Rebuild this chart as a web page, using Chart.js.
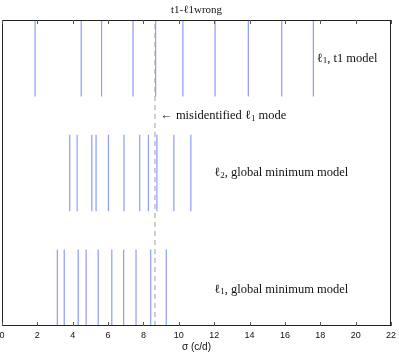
<!DOCTYPE html>
<html>
<head>
<meta charset="utf-8">
<script src="https://cdn.jsdelivr.net/npm/chart.js@4"></script>
<style>
  html, body { margin: 0; padding: 0; background: #fff; }
  #wrap { width: 399px; height: 354px; }
</style>
</head>
<body>
<div id="wrap"><canvas id="modes"></canvas></div>
<script>
// mode frequencies (c/d)
const t1Modes = [1.87, 4.48, 5.63, 7.41, 8.69, 10.23, 12.05, 13.93, 15.82, 17.61];
const l2GlobalModes = [3.83, 4.25, 5.08, 5.32, 6.02, 6.90, 7.79, 8.28, 8.76, 9.72, 10.68];
const l1GlobalModes = [3.13, 3.52, 4.31, 4.76, 5.44, 6.21, 6.88, 7.58, 8.41, 9.29];
const misidentified = 8.65;
const xTicks = [0, 2, 4, 6, 8, 10, 12, 14, 16, 18, 20, 22];

const serif = '"Liberation Serif", "DejaVu Serif", serif';
const sans = '"Liberation Sans", Arial, sans-serif';
const modeColor = '#8c9cff';

// vertical segments between y0 and y1, broken by null points
function sticks(freqs, y0, y1) {
  const pts = [];
  freqs.forEach(f => {
    pts.push({x: f, y: y0}, {x: f, y: y1}, {x: f, y: null});
  });
  return pts;
}

// text pieces: [string, subscript?]
const labels = [
  {x: 17.8, y: 3.5, parts: [['ℓ'], ['1', true], [', t1 model']]},
  {x: 8.95, y: 2.75, parts: [['← misidentified ℓ'], ['1', true], [' mode']]},
  {x: 12.0, y: 2.0, parts: [['ℓ'], ['2', true], [', global minimum model']]},
  {x: 12.0, y: 0.48, parts: [['ℓ'], ['1', true], [', global minimum model']]},
];

function richText(ctx, parts, px, py, size) {
  let cx = px;
  parts.forEach(([s, sub]) => {
    ctx.font = (sub ? Math.round(size * 0.72) : size) + 'px ' + serif;
    ctx.fillText(s, cx, sub ? py + size * 0.22 : py);
    cx += ctx.measureText(s).width;
  });
}

const frame = {
  id: 'frame',
  afterDraw(chart) {
    const {ctx, chartArea: a, scales: {x, y}} = chart;
    ctx.save();
    ctx.strokeStyle = '#222';
    ctx.lineWidth = 1;
    ctx.strokeRect(a.left + 0.5, a.top + 0.5, a.right - a.left - 1, a.bottom - a.top - 1);
    ctx.strokeStyle = '#555';
    xTicks.forEach(t => {
      const px = Math.round(x.getPixelForValue(t)) + 0.5;
      ctx.beginPath();
      ctx.moveTo(px, a.top); ctx.lineTo(px, a.top + 4);
      ctx.moveTo(px, a.bottom); ctx.lineTo(px, a.bottom - 4);
      ctx.stroke();
    });
    ctx.fillStyle = '#111';
    ctx.textBaseline = 'middle';
    labels.forEach(l => {
      richText(ctx, l.parts, x.getPixelForValue(l.x), y.getPixelForValue(l.y), 12.5);
    });
    ctx.textAlign = 'left';
    const title = [['t1-ℓ'], ['1'], ['wrong']];
    ctx.font = '11px ' + serif;
    const w = ctx.measureText('t1-ℓ1wrong').width;
    richText(ctx, title, (a.left + a.right) / 2 - w / 2, 10, 11);
    ctx.restore();
  }
};

new Chart(document.getElementById('modes'), {
  type: 'scatter',
  plugins: [frame],
  data: {
    datasets: [
      {data: sticks(t1Modes, 3, 4)},
      {data: sticks(l2GlobalModes, 1.5, 2.5)},
      {data: sticks(l1GlobalModes, 0, 1)},
      {
        data: sticks([misidentified], 0, 4),
        borderColor: '#b0b0b0',
        borderDash: [5, 4],
      },
    ].map(d => Object.assign({
      showLine: true,
      spanGaps: false,
      borderColor: modeColor,
      borderWidth: 1.2,
      pointRadius: 0,
    }, d))
  },
  options: {
    responsive: true,
    maintainAspectRatio: false,
    animation: false,
    layout: {padding: {top: 20, left: 2, right: 8, bottom: 0}},
    plugins: {
      legend: {display: false},
      title: {display: false},
      tooltip: {enabled: false},
    },
    scales: {
      x: {
        type: 'linear',
        min: 0,
        max: 22,
        afterBuildTicks: axis => { axis.ticks = xTicks.map(v => ({value: v})); },
        afterFit: axis => {
          axis.paddingLeft = 0;
          axis.paddingRight = 0;
          axis.height = 28;
        },
        grid: {display: false, drawTicks: false},
        border: {display: false},
        ticks: {
          color: '#111',
          padding: 4,
          maxRotation: 0,
          font: {size: 9, family: sans},
        },
        title: {
          display: true,
          text: 'σ (c/d)',
          color: '#111',
          padding: {top: 0, bottom: 1},
          font: {size: 10, family: sans},
        },
      },
      y: {
        display: false,
        min: 0,
        max: 4,
      }
    }
  }
});
</script>
</body>
</html>
